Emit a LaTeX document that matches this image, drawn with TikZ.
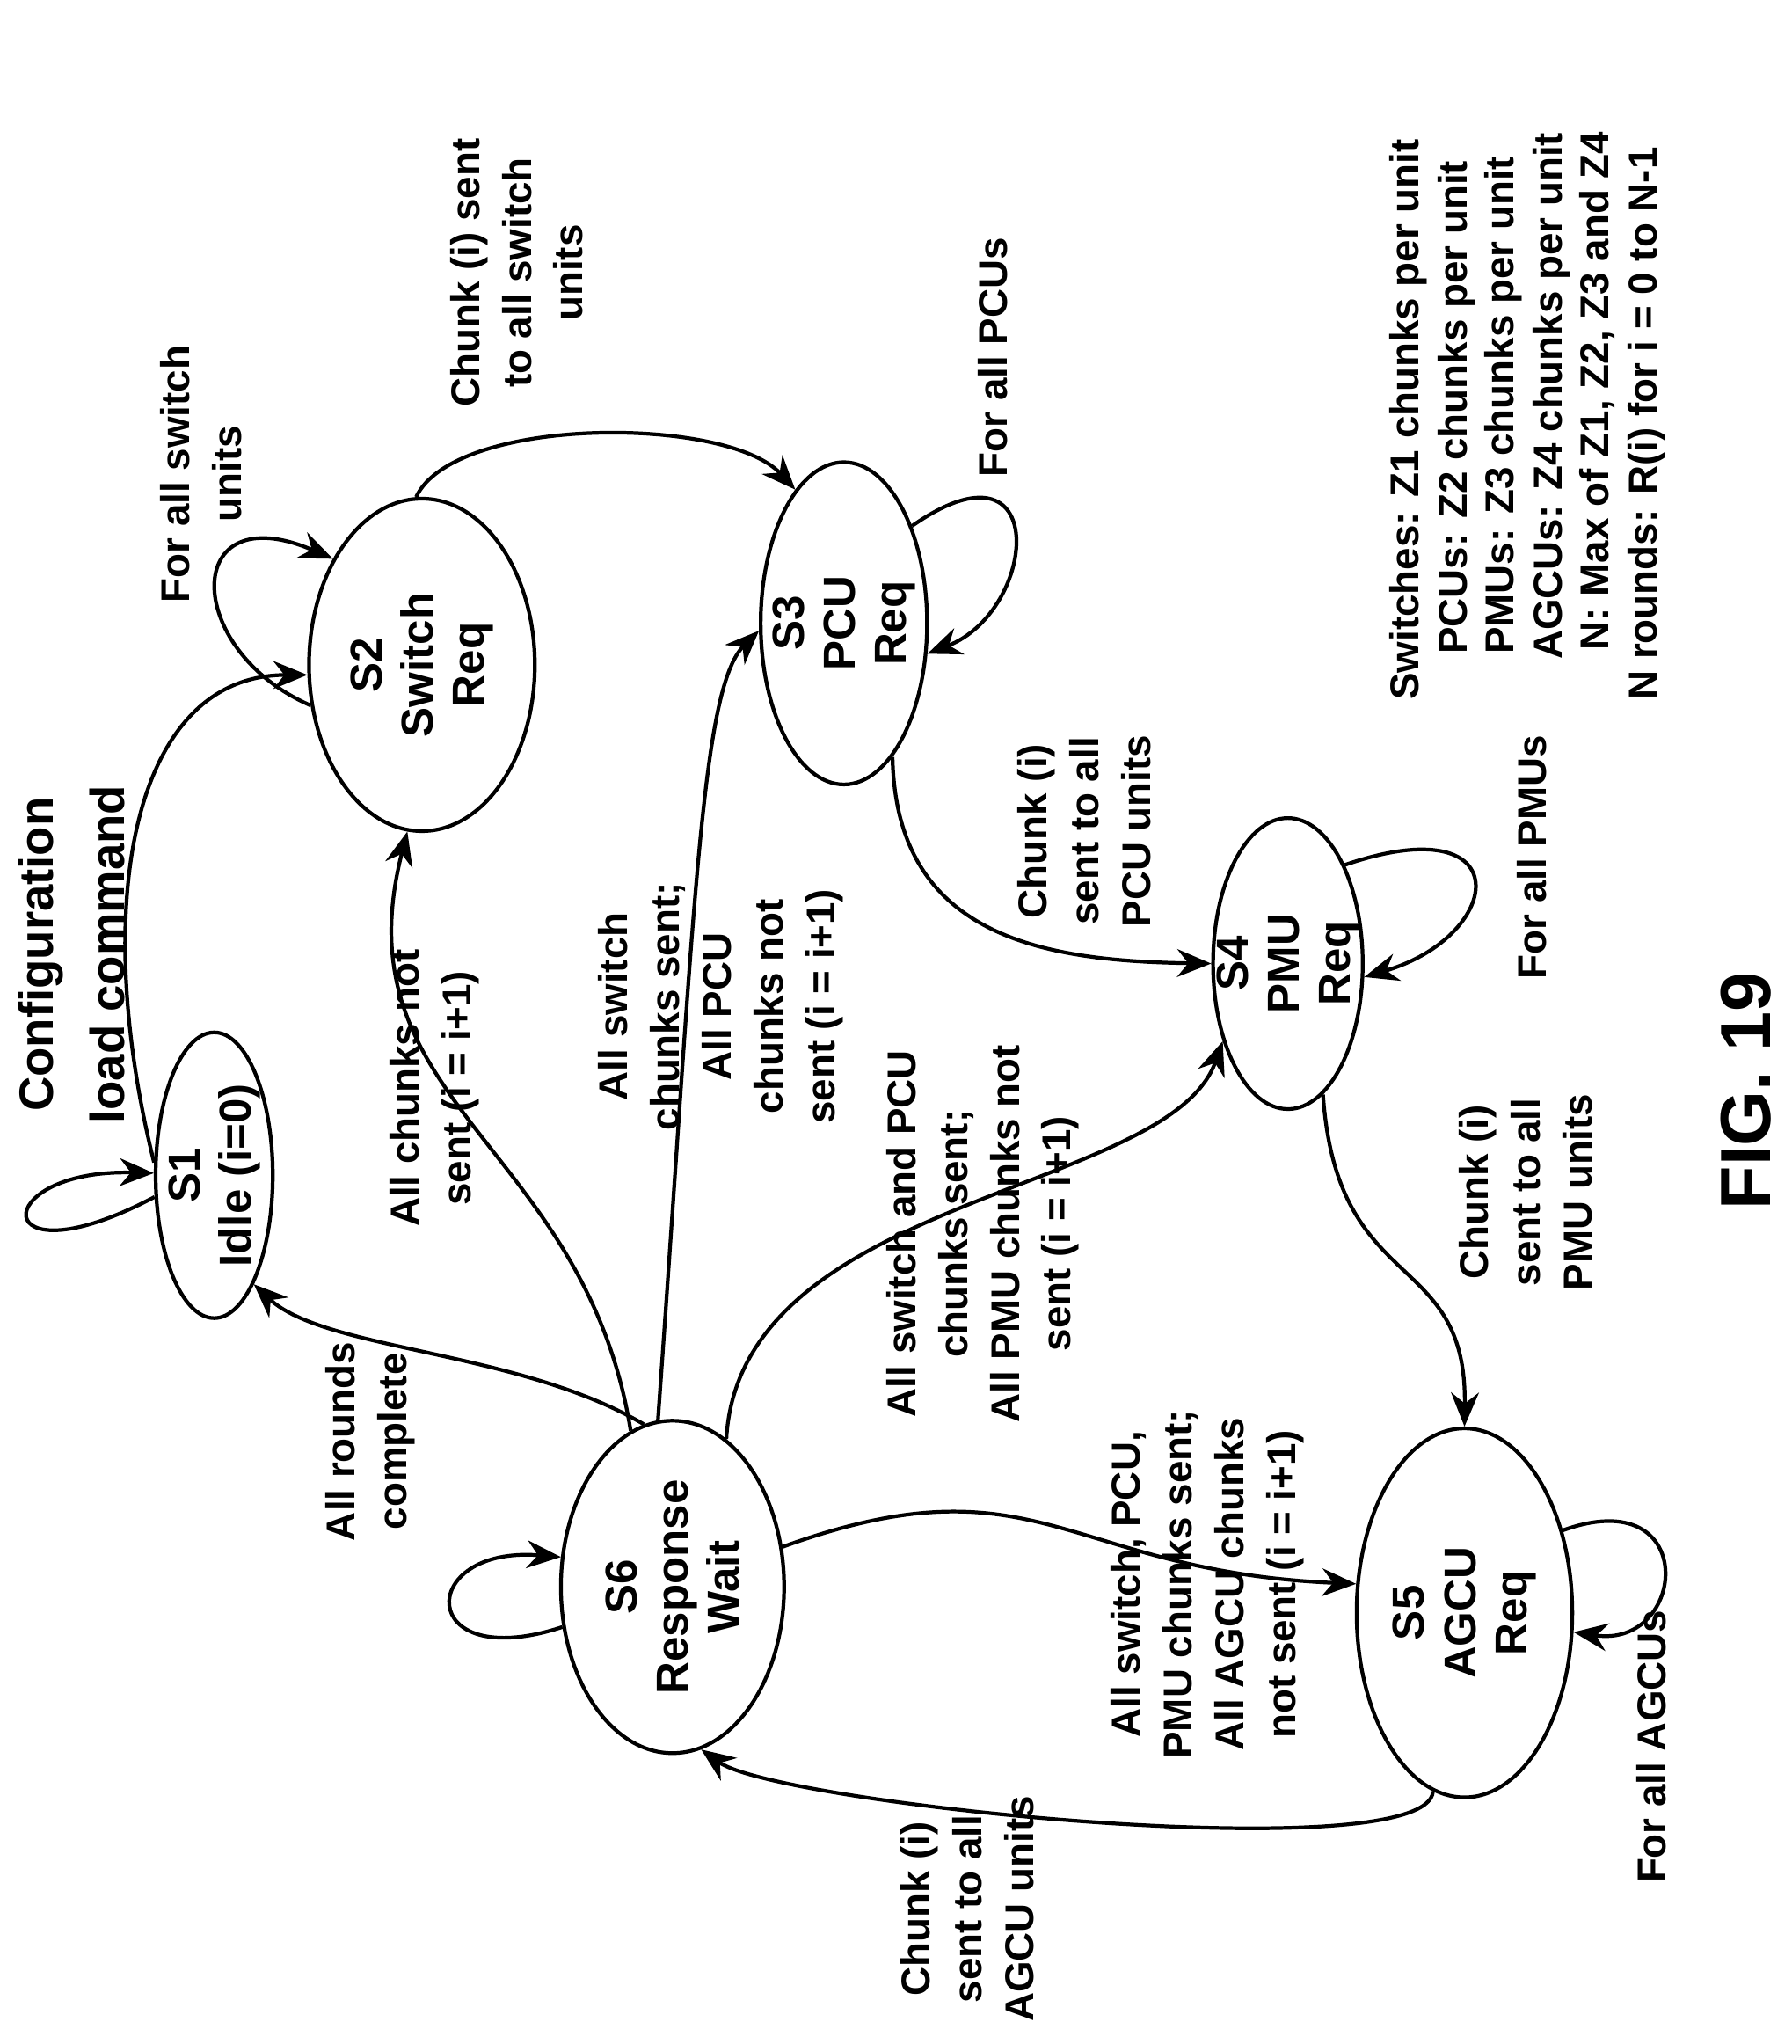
\documentclass[tikz,border=0pt]{standalone}
\usepackage{fontspec}
\setmainfont{Liberation Sans}
\usetikzlibrary{shapes.geometric,arrows.meta}
\begin{document}
\begin{tikzpicture}[x=0.0295cm,y=-0.0295cm,
  st/.style={draw,ellipse,line width=2.4pt,inner sep=0pt},
  tx/.style={rotate=90,align=center,font=\fontsize{29}{33}\selectfont\bfseries},
  ed/.style={line width=2.4pt,-{Stealth[length=22pt,width=18pt]}},
  lb/.style={rotate=90,align=center,font=\fontsize{26}{33.5}\selectfont\bfseries},
  lg/.style={rotate=90,anchor=west,font=\fontsize{26}{33.5}\selectfont\bfseries}]
\useasboundingbox (0,0) rectangle (1380,1574);
\node[st,minimum width=2.66cm,minimum height=6.49cm] (s1) at (165,905) {};
\node[st,minimum width=5.13cm,minimum height=7.55cm] (s2) at (325,512) {};
\node[st,minimum width=3.78cm,minimum height=7.32cm] (s3) at (650,480) {};
\node[st,minimum width=3.4cm,minimum height=6.61cm] (s4) at (992,742) {};
\node[st,minimum width=4.90cm,minimum height=8.38cm] (s5) at (1128,1242) {};
\node[st,minimum width=5.07cm,minimum height=7.55cm] (s6) at (518,1222) {};
\node[tx] (t1) at (s1) {S1\\Idle (i=0)};
\node[tx] (t2) at (s2) {S2\\Switch\\Req};
\node[tx] (t3) at (s3) {S3\\PCU\\Req};
\node[tx] (t4) at (s4) {S4\\PMU\\Req};
\node[tx] (t5) at (s5) {S5\\AGCU\\Req};
\node[tx] (t6) at (s6) {S6\\Response\\Wait};

\draw[ed] (s1.200) .. controls (-10,990) and (-10,900) .. (s1.178);
\draw[ed] (s1.168) .. controls (70,700) and (100,520) .. (s2.185);
\draw[ed] (s2.200) .. controls (140,500) and (140,380) .. (s2.130);
\draw[ed] (s2.92) .. controls (350,320) and (560,320) .. (s3.110);
\draw[ed] (s3.55) .. controls (810,330) and (800,470) .. (s3.-20);
\draw[ed] (s3.-70) .. controls (690,720) and (800,740) .. (s4.180);
\draw[ed] (s4.60) .. controls (1170,620) and (1160,720) .. (s4.-10);
\draw[ed] (s4.-75) .. controls (1030,1000) and (1130,960) .. (s5.90);
\draw[ed] (s5.40) .. controls (1310,1140) and (1300,1270) .. (s5.-10);
\draw[ed] (s5.-100) .. controls (1100,1440) and (600,1390) .. (s6.-80);
\draw[ed] (s6.200) .. controls (320,1290) and (320,1190) .. (s6.165);
\draw[ed] (s6.100) .. controls (400,1040) and (250,1040) .. (s1.-70);
\draw[ed] (s6.105) .. controls (450,880) and (260,850) .. (s2.-95);
\draw[ed] (s6.95) .. controls (535,700) and (540,530) .. (s3.185);
\draw[ed] (s6.70) .. controls (570,920) and (900,920) .. (s4.-130);
\draw[ed] (s6.20) .. controls (800,1120) and (820,1210) .. (s5.165);

\node[lb,font=\fontsize{31}{46}\selectfont\bfseries] (l0) at (55,735) {Configuration\\load command};
\node[lb] (l1) at (155,365) {For all switch\\units};
\node[lb] (l2) at (398,210) {Chunk (i) sent\\to all switch\\units};
\node[lb] (l3) at (765,275) {For all PCUs};
\node[lb] (l4) at (835,640) {Chunk (i)\\sent to all\\PCU units};
\node[lb] (l5) at (1180,660) {For all PMUs};
\node[lb] (l6) at (1175,918) {Chunk (i)\\sent to all\\PMU units};
\node[lb] (l7) at (1272,1345) {For all AGCUs};
\node[lb] (l8) at (745,1470) {Chunk (i)\\sent to all\\AGCU units};
\node[lb] (l9) at (285,1110) {All rounds\\complete};
\node[lb] (l10) at (335,838) {All chunks not\\sent (i = i+1)};
\node[lb] (l11) at (555,775) {All switch\\chunks sent;\\All PCU\\chunks not\\sent (i = i+1)};
\node[lb] (l12) at (757,950) {All switch and PCU\\chunks sent;\\All PMU chunks not\\sent (i = i+1)};
\node[lb] (l13) at (930,1220) {All switch, PCU,\\PMU chunks sent;\\All AGCU chunks\\not sent (i = i+1)};

\node[lg] (g1) at (1085,543) {Switches: Z1 chunks per unit};
\node[lg] (g2) at (1122,508) {PCUs: Z2 chunks per unit};
\node[lg] (g3) at (1158,508) {PMUs: Z3 chunks per unit};
\node[lg] (g4) at (1195,512) {AGCUs: Z4 chunks per unit};
\node[lg] (g5) at (1230,505) {N: Max of Z1, Z2, Z3 and Z4};
\node[lg] (g6) at (1268,543) {N rounds: R(i) for i = 0 to N-1};
\node[rotate=90,font=\fontsize{46}{50}\selectfont\bfseries] (fig) at (1345,840) {FIG. 19};
\end{tikzpicture}
\end{document}
